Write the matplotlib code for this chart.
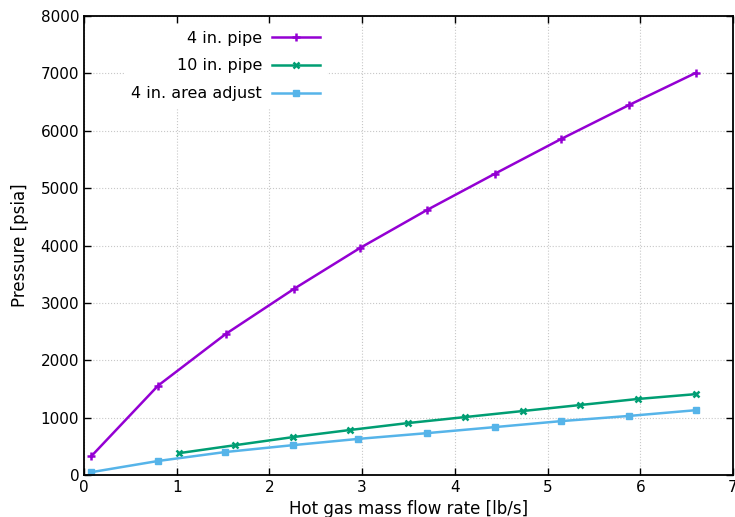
import numpy as np
import matplotlib.pyplot as plt

# Débito de gás quente (lb/s) e pressão (psia)
x_4in = [0.08, 0.80, 1.53, 2.27, 2.98, 3.70, 4.43, 5.15, 5.88, 6.60]
p_4in = [330, 1560, 2460, 3250, 3960, 4620, 5250, 5860, 6450, 7010]

x_10in = [1.02, 1.63, 2.25, 2.87, 3.49, 4.11, 4.73, 5.35, 5.97, 6.60]
p_10in = [380, 520, 660, 785, 905, 1010, 1115, 1220, 1325, 1410]

x_area = [0.08, 0.80, 1.52, 2.25, 2.96, 3.70, 4.43, 5.15, 5.88, 6.60]
p_area = [50, 245, 400, 520, 630, 730, 835, 940, 1030, 1130]

fig = plt.figure(figsize=(7.35, 5.17), dpi=100)
ax = fig.add_axes([0.1143, 0.0812, 0.883, 0.8878])

ax.plot(x_4in, p_4in, color='#9400d3', lw=1.8, marker='+', ms=6, mew=1.8, label='4 in. pipe')
ax.plot(x_10in, p_10in, color='#009e73', lw=1.8, marker='x', ms=5, mew=1.8, label='10 in. pipe')
ax.plot(x_area, p_area, color='#56b4e9', lw=1.8, marker='s', ms=5, label='4 in. area adjust')

ax.set_xlim(0, 7)
ax.set_ylim(0, 8000)
ax.set_xticks(np.arange(0, 8, 1))
ax.set_yticks(np.arange(0, 9000, 1000))
ax.grid(True, linestyle=':', color='#c8c8c8', lw=0.8)
ax.set_axisbelow(True)
ax.tick_params(direction='in', top=True, right=True, labelsize=11, length=5, width=1)
for s in ax.spines.values():
    s.set_linewidth(1.3)

ax.set_xlabel('Hot gas mass flow rate [lb/s]', fontsize=12, labelpad=4)
ax.set_ylabel('Pressure [psia]', fontsize=12, labelpad=8)

leg = ax.legend(loc='upper left', bbox_to_anchor=(0.063, 0.982), markerfirst=False,
                frameon=True, fancybox=False, edgecolor='white', framealpha=1,
                fontsize=11.5, handlelength=3.0, handletextpad=0.6,
                labelspacing=0.8, borderaxespad=0)

fig.savefig('out.png', dpi=100)
